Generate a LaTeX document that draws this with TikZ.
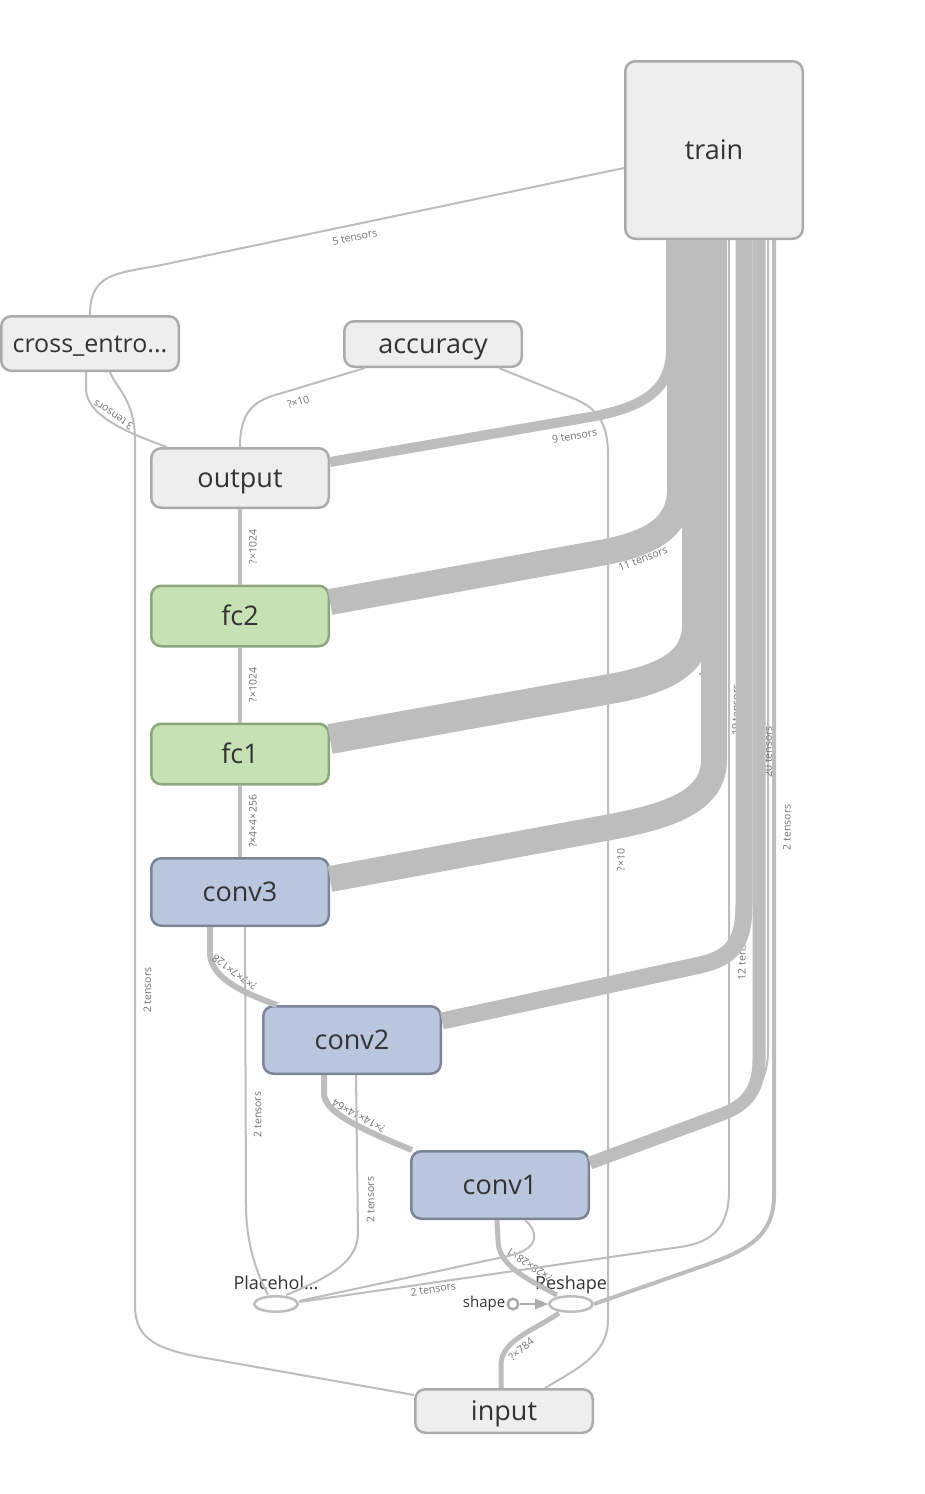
\documentclass[tikz,border=0pt]{standalone}
\usepackage{fontspec}
\setmainfont{Open Sans}
\usepackage{tikz}
\usetikzlibrary{arrows,shapes.geometric}
\definecolor{opfill}{HTML}{EEEEEE}
\definecolor{opline}{HTML}{ABABAB}
\definecolor{fcfill}{HTML}{C6E2B5}
\definecolor{fcline}{HTML}{8CA67E}
\definecolor{convfill}{HTML}{BAC6DE}
\definecolor{convline}{HTML}{7C8598}
\definecolor{flow}{HTML}{BDBDBD}
\definecolor{optext}{HTML}{333333}
\definecolor{flowtext}{HTML}{707070}

\begin{document}
\begin{tikzpicture}[x=1pt,y=1pt,>=triangle 45,node distance=138pt]
  \tikzstyle{op}=[rectangle,rounded corners=10pt,draw=opline,fill=opfill,line width=2.5pt,
                  inner sep=2pt,minimum width=177.5pt,text=optext,font=\fontsize{27}{32}\selectfont,
                  text height=23pt,text depth=5pt]
  \tikzstyle{fc}=[op,draw=fcline,fill=fcfill,minimum height=60.5pt]
  \tikzstyle{conv}=[op,draw=convline,fill=convfill,minimum height=67.5pt]
  \tikzstyle{leaf}=[ellipse,draw=flow,fill=white,line width=2.5pt,minimum width=43.5pt,
                    minimum height=15.5pt,inner sep=0pt,label distance=2pt]
  \tikzstyle{opname}=[text=optext,font=\fontsize{18}{20}\selectfont,inner sep=1pt,
                      text height=13pt,text depth=4pt]
  \tikzstyle{wire}=[draw=flow,line width=2pt]
  \tikzstyle{tag}=[sloped,allow upside down,text=flowtext,font=\fontsize{10.5}{12}\selectfont,
                   inner sep=1.5pt]

  \useasboundingbox (0,0) rectangle (924,-1494);

  \node[op,minimum height=177.5pt] (train) at (714,-150)    {train};
  \node[op,minimum height=54.5pt,font=\fontsize{25}{30}\selectfont] (xent) at (90,-343.5) {cross\_entro...};
  \node[op,minimum height=45.5pt]  (acc)   at (433,-344)    {accuracy};
  \node[op,minimum height=59.5pt]  (output) at (240,-478)   {output};
  \node[fc]   (fc2)   [below of=output] {fc2};
  \node[fc]   (fc1)   [below of=fc2]    {fc1};
  \node[conv] (conv3) [below of=fc1]    {conv3};
  \node[conv] (conv2) at (352,-1040) {conv2};
  \node[conv] (conv1) at (500,-1185) {conv1};
  \node[op,minimum height=43.5pt]  (input) at (504,-1411)   {input};
  \node[leaf,label={[opname]above:Placehol...}] (ph)      at (276,-1304) {};
  \node[leaf,label={[opname]above:Reshape}]     (reshape) at (571,-1304) {};
  \node[circle,draw=opline,fill=white,line width=2.5pt,inner sep=0pt,minimum size=10.5pt,label distance=3pt,
        label={[opname,font=\fontsize{15}{17}\selectfont,text height=11pt]left:shape}] (shape) at (513,-1304) {};

  \draw[->,draw=opline,line width=2pt] (shape) -- (reshape);

  \draw[wire] (xent.north) .. controls (90,-270) and (120,-274) .. (171,-263)
        -- node[tag,pos=0.4,below=6pt] {5 tensors} ([yshift=-18pt]train.west);
  \draw[wire] ([xshift=-73pt]output.north) .. controls (110,-427) and (86,-410) ..
        node[tag,pos=0.45,below=1pt] {3 tensors} (86,-388) -- ([xshift=-4pt]xent.south);
  \draw[wire] ([yshift=16pt]input.west) -- (200,-1357) .. controls (150,-1348) and (135,-1335) .. (135,-1305)
        -- node[tag,pos=0.364,below=6pt] {2 tensors} (135,-440)
        .. controls (135,-400) and (116,-388) .. ([xshift=20pt]xent.south);
  \draw[wire] (output.north) .. controls (240,-410) and (255,-400) .. (282,-393)
        -- node[tag,pos=0.15,below=7pt] {?×10} ([xshift=-68pt]acc.south);
  \draw[wire] ([xshift=41pt]input.north) .. controls (575,-1370) and (608,-1355) .. (608,-1320)
        -- node[tag,pos=0.532,below=6.5pt] {?×10} (608,-455)
        .. controls (608,-420) and (595,-408) .. (575,-399) -- ([xshift=66pt]acc.south);

  \draw[wire,line width=4pt] (fc2) -- node[tag,below=5.5pt] {?×1024} (output);
  \draw[wire,line width=4pt] (fc1) -- node[tag,below=5.5pt] {?×1024} (fc2);
  \draw[wire,line width=4pt] (conv3) -- node[tag,below=5.5pt] {?×4×4×256} (fc1);
  \draw[wire,line width=6pt] ([xshift=-75pt]conv2.north) .. controls (235,-990) and (210,-975) ..
        node[tag,pos=0.5,below=3pt] {?×7×7×128} (210,-952) -- ([xshift=-30pt]conv3.south);
  \draw[wire,line width=6pt] ([xshift=-88pt]conv1.north) .. controls (350,-1125) and (324,-1110) ..
        node[tag,pos=0.4,below=1pt] {?×14×14×64} (324,-1093) -- ([xshift=-28pt]conv2.south);
  \draw[wire,line width=5pt] ([xshift=-14pt]reshape.north) .. controls (525,-1278) and (498,-1265) ..
        node[tag,pos=0.4,below=5pt] {?×28×28×1} (498,-1240) -- ([xshift=-3pt]conv1.south);
  \draw[wire,line width=5pt] ([xshift=-3pt]input.north) -- (501,-1365) .. controls (501,-1340) and (535,-1330) ..
        node[tag,pos=0.4,below=3pt] {?×784} ([xshift=-12pt]reshape.south);

  \draw[wire] ([xshift=-8pt]ph.north) .. controls (255,-1270) and (246,-1240) .. (246,-1205)
        -- node[tag,pos=0.325,below=5.5pt] {2 tensors} ([xshift=5pt]conv3.south);
  \draw[wire] ([xshift=10pt]ph.north) .. controls (335,-1275) and (358,-1260) .. (358,-1232)
        -- node[tag,pos=0.205,below=6.5pt] {2 tensors} ([xshift=4pt]conv2.south);
  \draw[wire] ([yshift=3pt]ph.east) -- (508,-1256) .. controls (545,-1248) and (535,-1228) .. ([xshift=25pt]conv1.south);
  \draw[wire] ([yshift=2pt]ph.east) -- node[tag,pos=0.35,below] {2 tensors} (680,-1247)
        .. controls (715,-1242) and (729,-1225) .. (729,-1190)
        -- node[tag,pos=0.248,below=6.5pt] {12 tensors} ([xshift=15pt]train.south);

  \draw[wire,line width=10pt] ([yshift=16pt]output.east) -- node[tag,pos=0.93,below=5.5pt] {9 tensors} (590,-417)
        .. controls (640,-408) and (671,-392) .. (671,-350) -- ([xshift=-43pt]train.south);
  \draw[wire,line width=26pt] ([yshift=14pt]fc2.east) -- (600,-553) .. controls (645,-545) and (680,-530) ..
        node[tag,pos=0.3,below=-2pt] {11 tensors} (680,-490) -- ([xshift=-34pt]train.south);
  \draw[wire,line width=30pt] ([yshift=15pt]fc1.east) -- (610,-689) .. controls (660,-680) and (697,-665) ..
        node[tag,pos=0.8,below=1pt] {11 tensors} (697,-625) -- ([xshift=-17pt]train.south);
  \draw[wire,line width=26pt] ([yshift=13pt]conv3.east) -- (600,-829) .. controls (660,-818) and (714,-805) ..
        (714,-760) -- node[tag,pos=0.096,below=3.5pt] {19 tensors} (train.south);
  \draw[wire,line width=17pt] ([yshift=19pt]conv2.east) -- (700,-965) .. controls (730,-958) and (744,-945) ..
        (744,-905) -- ([xshift=30pt]train.south);
  \draw[wire] ([yshift=24pt]conv1.east) -- (722,-1110) .. controls (752,-1099) and (768,-1085) ..
        (768,-1050) -- node[tag,pos=0.368] {20 tensors} ([xshift=54pt]train.south);
  \draw[wire,line width=13pt] ([yshift=22pt]conv1.east) -- (720,-1115) .. controls (745,-1106) and (759,-1092) ..
        (759,-1060) -- ([xshift=45pt]train.south);
  \draw[wire,line width=4pt] (reshape.east) -- (700,-1267) .. controls (750,-1250) and (774,-1235) ..
        (774,-1195) -- node[tag,pos=0.385,below=5.5pt] {2 tensors} ([xshift=60pt]train.south);
\end{tikzpicture}
\end{document}
